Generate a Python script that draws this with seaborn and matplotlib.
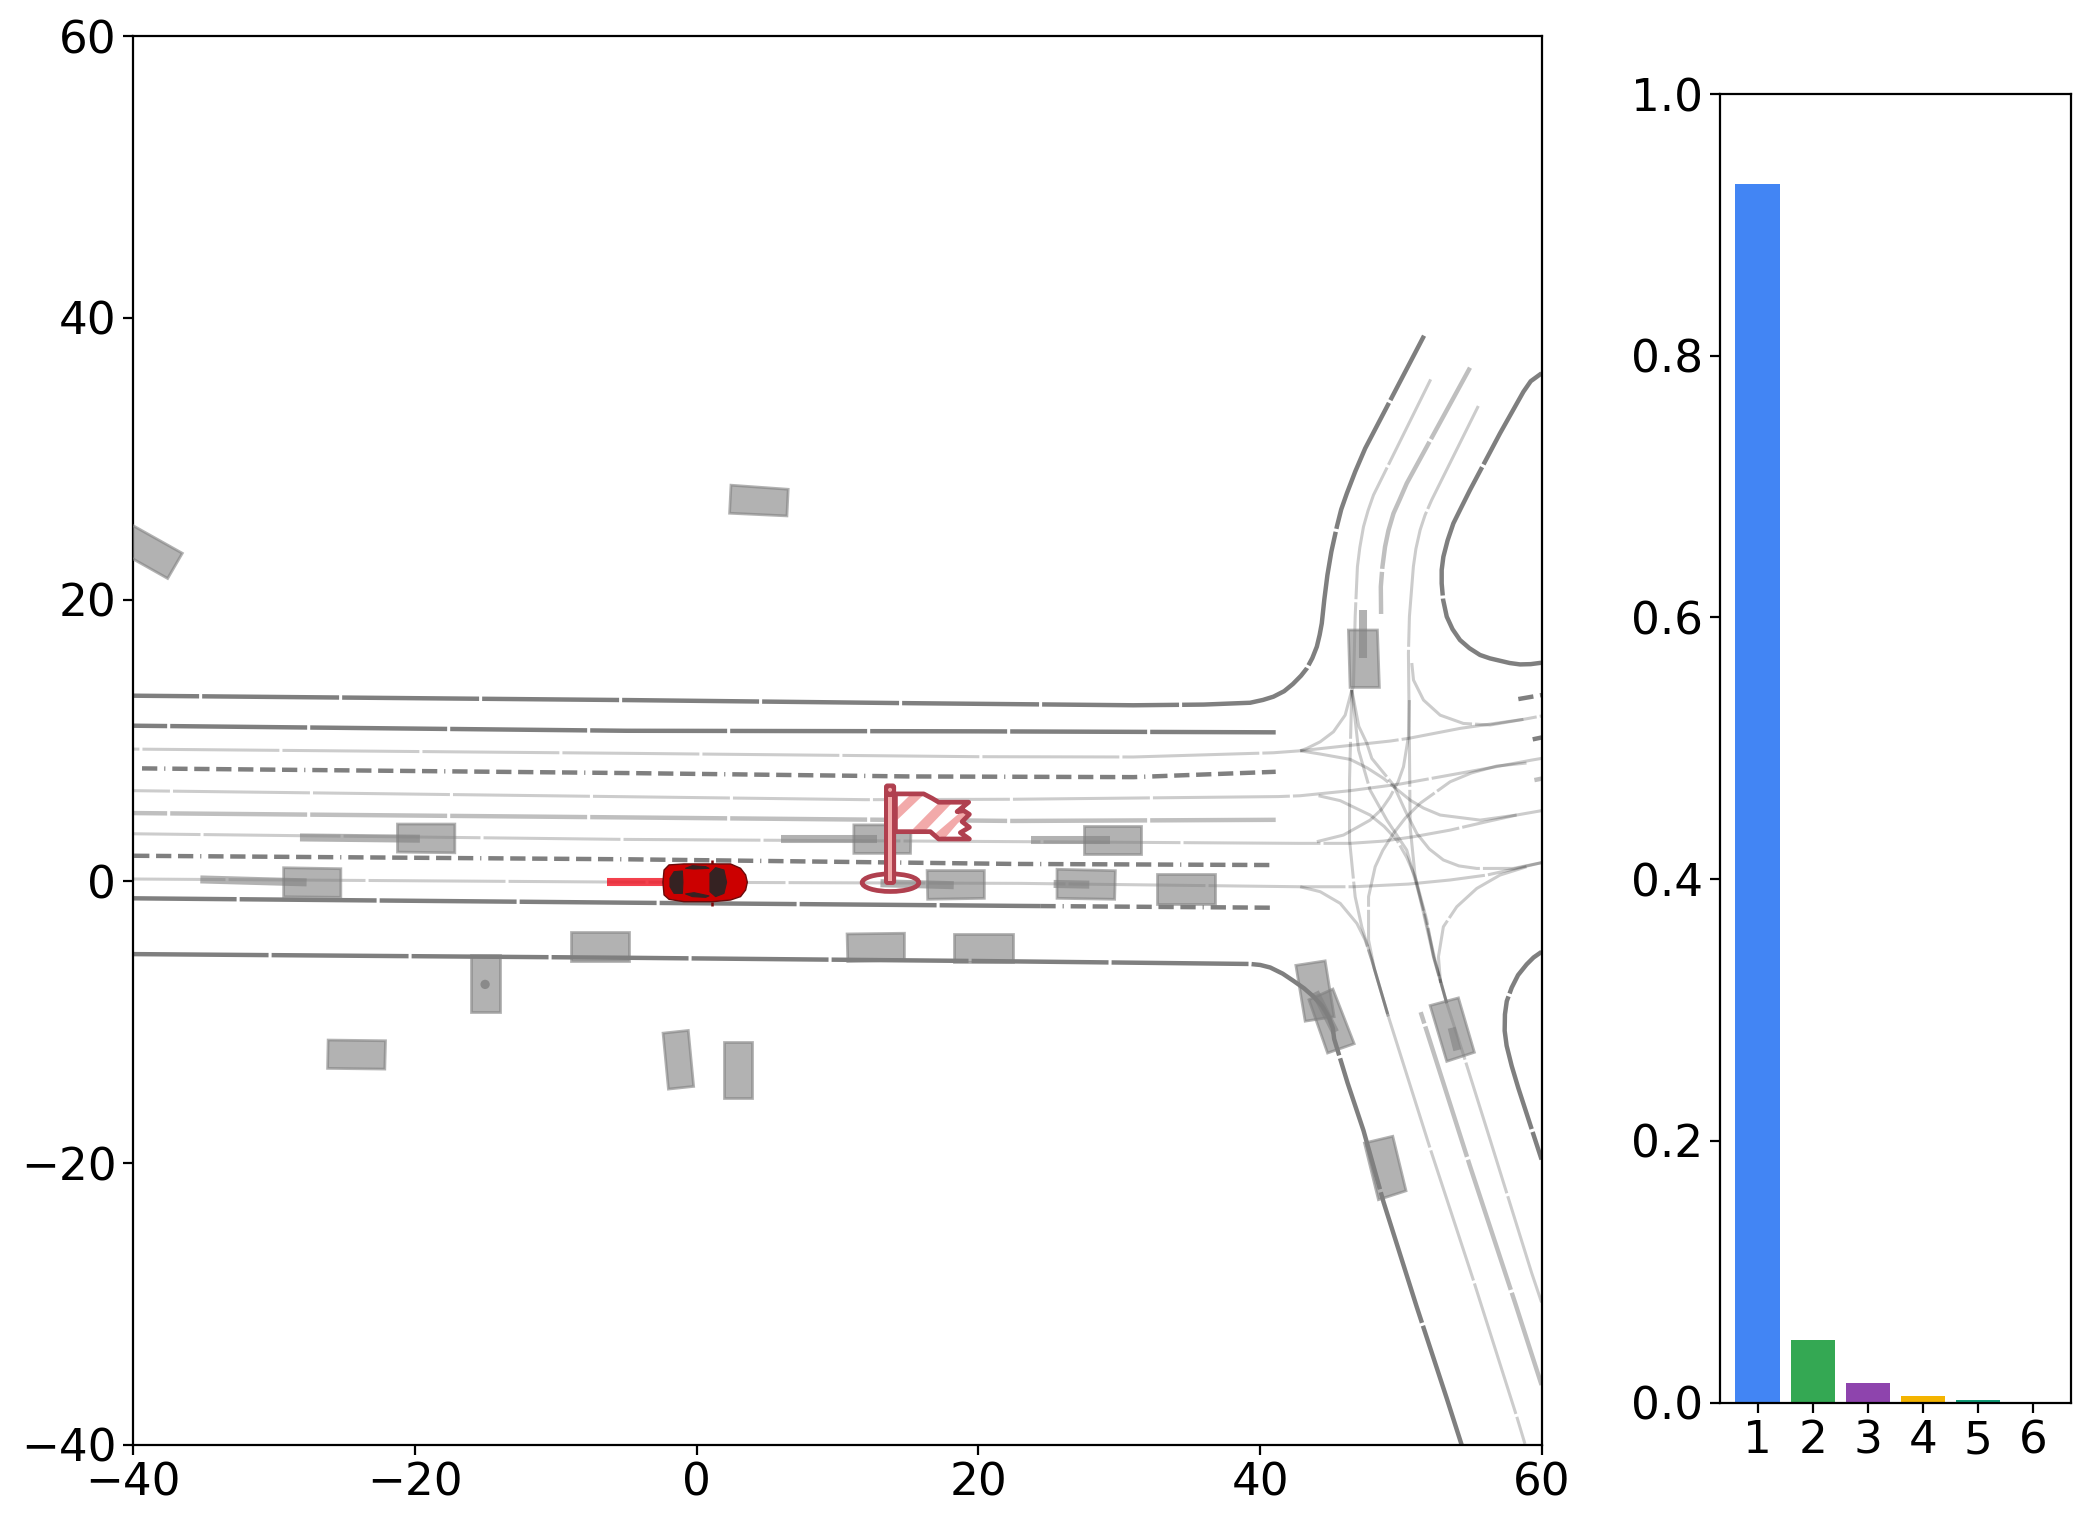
import pandas as pd
import matplotlib
matplotlib.use("Agg")
import matplotlib.pyplot as plt
from matplotlib.patches import Polygon, Ellipse, Circle, FancyBboxPatch
import seaborn as sns

plt.rcParams["font.size"] = 16.3
plt.rcParams["lines.scale_dashes"] = False
plt.rcParams["xtick.major.pad"] = 2.5
plt.rcParams["ytick.major.pad"] = 2.5

# Mode probabilities
modes = ["1", "2", "3", "4", "5", "6"]
probs = [0.931, 0.048, 0.015, 0.005, 0.002, 0.0003]
mode_colors = ["#4285F4", "#34A853", "#8E44AD", "#F4B400", "#0F9D78", "#DB4437"]

xticks = [-40, -20, 0, 20, 40, 60]
yticks = [-40, -20, 0, 20, 40, 60]
prob_ticks = [0.0, 0.2, 0.4, 0.6, 0.8, 1.0]

# Road edges (dark)
curb_top = [(-40, 13.18), (-5, 12.87), (15, 12.65), (31, 12.5), (36, 12.55), (39.29, 12.68), (40.2, 12.88),
            (40.94, 13.11), (41.7, 13.5), (42.32, 14.01), (42.9, 14.6), (43.31, 15.12), (43.7, 15.85), (44.02, 16.66),
            (44.22, 17.5), (44.37, 18.31), (44.55, 20), (44.77, 21.74), (45.05, 23.4), (45.44, 25.17), (45.75, 26.4),
            (46.15, 27.54), (46.75, 29.1), (47.45, 30.73), (51.63, 38.73)]
curb_second = [(-40, 11.05), (-5, 10.69), (20, 10.65), (41.1, 10.58)]
curb_ego = [(-40, -1.2), (-5, -1.51), (23, -1.74), (24.4, -1.75)]
curb_low = [(-40, -5.16), (-5, -5.42), (20, -5.65), (39.29, -5.86), (40.0, -5.93), (40.71, -6.11), (41.6, -6.55),
            (42.36, -7.06), (43.1, -7.58), (43.78, -8.17), (44.4, -8.85), (44.85, -9.6), (45.15, -10.4),
            (45.25, -11.18), (46.2, -14.3), (47.33, -17.68), (48.75, -22.75), (51.11, -30.2), (53.24, -36.69),
            (54.3, -40)]
curb_ne = [(59.97, 36.06), (59.2, 35.5), (58.68, 34.75), (57.02, 31.8), (54.89, 27.78), (54.2, 26.4), (53.71, 25.41),
           (53.3, 24.2), (53.0, 23.04), (52.88, 22.1), (52.88, 21.15), (52.98, 20), (53.24, 18.79), (53.65, 17.9),
           (54.18, 17.13), (54.85, 16.55), (55.6, 16.07), (56.3, 15.83), (57.02, 15.66), (57.7, 15.5), (58.44, 15.4),
           (59.2, 15.42), (59.97, 15.52)]
curb_se = [(59.97, -5.0), (59.4, -5.4), (58.91, -5.89), (58.3, -6.65), (57.85, -7.54), (57.5, -8.5), (57.37, -9.44),
           (57.35, -10.6), (57.49, -11.66), (57.85, -13.1), (58.32, -14.67), (59.97, -19.74)]
stub_a = [(59.34, 10.08), (60, 10.22)]

# Dashed lane dividers
dash_upper = [(-39.36, 8.02), (-5, 7.69), (15, 7.45), (31, 7.4), (41.1, 7.78)]
dash_lower = [(-40, 1.82), (-5, 1.57), (22.5, 1.24), (41.1, 1.16)]
dash_right = [(24.4, -1.75), (41.1, -1.87)]
dash_stub = [(58.32, 12.94), (60, 13.23)]

# Lane centre lines (light)
lane_3 = [(-40, 9.39), (-5, 9.09), (20, 8.85), (31, 8.83), (40.94, 9.13), (42.84, 9.27), (49.22, 9.96), (50.52, 10.15),
          (54.19, 10.86), (58.68, 11.5), (59.97, 11.74)]
lane_5 = [(-40, 6.44), (-5, 6.01), (12, 5.8), (22.5, 5.83), (41.3, 6.02), (42.84, 6.08), (46.39, 6.44), (49.93, 6.91),
          (53.48, 7.55), (57.02, 8.19), (59.27, 8.61), (59.97, 8.73)]
lane_7 = [(-40, 3.38), (-5, 2.98), (23, 2.82), (42.84, 2.7), (46.39, 2.7), (48.75, 2.86), (50.88, 3.17), (53.48, 3.64),
          (56.08, 4.24), (58.2, 4.71), (59.97, 5.02)]
lane_9 = [(-40, 0.17), (-5, -0.05), (23, -0.14), (42.84, -0.38), (46.62, -0.38), (50.52, -0.19), (53.48, 0.1),
          (56.08, 0.45), (58.2, 0.92), (59.97, 1.33)]
lane_6 = [(-40, 4.85), (-5, 4.54), (22.5, 4.29), (41.1, 4.37)]
north_c = [(54.89, 36.46), (50.4, 28.25), (49.9, 27.1), (49.46, 26.12), (49.1, 24.9), (48.86, 23.75), (48.67, 22.3),
           (48.56, 20.91), (48.58, 18.98)]
south_h = [(51.39, -9.28), (54.89, -20.21), (58.08, -29.88), (59.97, -35.74)]
stub_b = [(59.46, 7.19), (60, 7.3)]

north_b = [(52.1, 35.63), (48.04, 27.42), (47.65, 26.3), (47.33, 25.17), (47.07, 23.7), (46.9, 22.33), (46.74, 18.79),
           (46.62, 13.82), (46.5, 13.58), (46.34, 7.19), (46.34, 2.93), (46.74, -1.09), (47.21, -3.22), (47.92, -5.58),
           (49.1, -9.6), (52.06, -18.95), (55.13, -28.3), (58.2, -37.96), (58.79, -39.92)]
north_d = [(55.48, 33.74), (52.17, 27.07), (51.7, 26.0), (51.35, 24.94), (51.05, 23.6), (50.87, 22.33), (50.59, 18.79),
           (50.52, 16.18), (50.59, 9.8), (50.64, 3.88), (51.0, 0.33), (51.82, -2.74), (52.3, -5.35), (53.24, -8.65),
           (54.42, -12.29), (56.31, -18.31), (59.27, -27.8), (59.97, -29.88)]
turn_1 = [(46.5, 13.58), (46.03, 11.8), (45.2, 10.62), (44.26, 9.91), (43.31, 9.44), (42.84, 9.27)]
turn_2 = [(42.84, 9.27), (44.26, 9.04), (46.39, 8.66), (47.6, 8.05), (48.75, 7.31), (50.64, 5.77), (51.6, 5.2),
          (52.77, 4.71), (55.61, 4.35), (58.2, 4.71)]
turn_3 = [(44.14, 6.08), (45.68, 5.73), (47.8, 4.71), (48.8, 3.9), (49.7, 2.93), (50.4, 1.7), (51.0, 0.33), (52.3, -5.35),
          (53.24, -8.65)]
turn_4 = [(44.02, 2.82), (45.91, 3.29), (47.8, 4.35), (48.6, 5.1), (49.22, 6.0), (49.8, 7.1), (50.17, 8.14),
          (50.52, 10.27), (50.59, 12.87)]
turn_5 = [(46.5, 13.58), (46.98, 9.32), (47.8, 6.48), (48.99, 4.35), (50.4, 2.22), (51.0, 0.1), (51.59, -2.03),
          (52.41, -5.58), (53.24, -8.65)]
turn_6 = [(46.5, 13.58), (47.0, 11.0), (47.57, 9.8), (47.92, 8.73), (49.46, 6.84), (50.3, 5.0), (51.11, 3.41),
          (52.0, 2.3), (53.0, 1.52), (54.1, 1.1), (55.37, 0.92), (57.97, 0.92), (59.97, 1.33)]
turn_7 = [(58.9, 8.4), (56.79, 8.19), (55.0, 7.7), (53.48, 7.07), (51.35, 5.54), (50.3, 4.5), (49.46, 3.41), (48.7, 2.2),
          (48.16, 1.04), (47.69, -1.09), (47.69, -4.16), (48.1, -6.2), (49.1, -9.6)]
turn_8 = [(42.84, -0.38), (44.26, -0.73), (45.68, -1.56), (46.86, -2.98), (47.45, -4.16), (47.92, -5.58), (49.1, -9.6)]
turn_9 = [(58.9, 1.04), (57.02, 0.45), (55.37, -0.5), (53.95, -1.8), (53.0, -3.22), (52.65, -5.35), (52.8, -7.2)]
turn_10 = [(50.76, 15.5), (50.88, 14.29), (51.59, 12.87), (52.77, 11.8), (54.42, 11.21), (56.32, 11.1), (58.68, 11.5)]

# Other vehicles
boxes = [
    [(-29.31, 0.97), (-25.25, 0.9), (-25.25, -1.13), (-29.31, -1.09)],
    [(-21.23, 4.07), (-17.16, 4.07), (-17.16, 2.03), (-21.23, 2.08)],
    [(-16.03, -5.23), (-13.95, -5.23), (-13.95, -9.27), (-16.03, -9.27)],
    [(-26.15, -11.26), (-22.08, -11.31), (-22.13, -13.32), (-26.19, -13.27)],
    [(-8.89, -3.57), (-4.78, -3.57), (-4.78, -5.63), (-8.89, -5.63)],
    [(11.16, 4.01), (15.22, 4.01), (15.18, 1.99), (11.16, 1.99)],
    [(16.36, 0.77), (20.42, 0.77), (20.42, -1.2), (16.4, -1.27)],
    [(10.68, -3.73), (14.75, -3.68), (14.75, -5.57), (10.73, -5.69)],
    [(18.3, -3.73), (22.43, -3.73), (22.43, -5.7), (18.3, -5.7)],
    [(2.44, 28.12), (6.5, 27.83), (6.41, 25.94), (2.34, 26.13)],
    [(-40.05, 25.28), (-36.5, 23.29), (-37.54, 21.5), (-41.09, 23.5)],
    [(-2.38, -10.77), (-0.59, -10.58), (-0.21, -14.55), (-2.0, -14.74)],
    [(1.97, -11.43), (3.95, -11.43), (3.95, -15.4), (1.97, -15.4)],
    [(25.58, 0.86), (29.72, 0.76), (29.67, -1.27), (25.58, -1.2)],
    [(27.47, 3.96), (31.54, 3.96), (31.54, 1.92), (27.47, 1.92)],
    [(32.67, 0.5), (36.76, 0.5), (36.76, -1.6), (32.67, -1.6)],
    [(46.26, 17.84), (48.32, 17.84), (48.46, 13.77), (46.38, 13.77)],
    [(42.53, -5.96), (44.61, -5.64), (45.25, -9.6), (43.19, -9.92)],
    [(43.46, -8.4), (45.16, -7.64), (46.67, -11.52), (44.78, -12.18)],
    [(52.06, -8.81), (54.07, -8.27), (55.2, -12.13), (53.24, -12.77)],
    [(47.4, -18.57), (49.41, -18.09), (50.35, -21.96), (48.39, -22.59)],
]
tracks = [
    [(-35.22, 0.14), (-27.68, -0.07)],
    [(-28.15, 3.12), (-19.64, 3.03)],
    [(5.96, 3.04), (12.81, 3.04)],
    [(13.05, -0.13), (18.25, -0.27)],
    [(25.34, -0.18), (27.87, -0.23)],
    [(23.74, 2.94), (29.36, 2.94)],
    [(47.33, 19.26), (47.33, 15.83)],
    [(43.9, -7.86), (45.32, -10.7)],
    [(53.59, -10.39), (53.99, -11.98)],
]
parked_dot = (-15.01, -7.31)

# Ego car
ego_track = [(-6.34, -0.02), (-2.32, -0.02)]
car_body = [(-2.31, 0.81), (-1.96, 1.17), (-0.9, 1.24), (1.11, 1.24), (2.41, 1.24), (3.12, 0.93), (3.48, 0.46),
            (3.6, -0.06), (3.48, -0.61), (3.12, -1.08), (2.41, -1.32), (1.11, -1.44), (-0.9, -1.44), (-1.96, -1.27),
            (-2.31, -0.96), (-2.39, -0.06)]
car_rear_glass = [(-1.89, 0.22), (-1.6, 0.69), (-1.01, 0.74), (-0.97, -0.06), (-1.01, -0.85), (-1.6, -0.85), (-1.89, -0.37)]
car_front_glass = [(0.95, 0.57), (1.35, 0.98), (1.94, 0.81), (2.13, -0.06), (1.94, -0.85), (1.35, -1.08), (0.95, -0.73)]
car_side_top = [(-0.78, 0.93), (-0.3, 1.12), (0.64, 1.05), (0.88, 0.93), (-0.18, 0.88)]
car_side_bot = [(-0.78, -0.89), (-0.18, -0.8), (0.88, -1.03), (0.64, -1.13), (-0.3, -1.08)]
car_mirror_top = [(1.11, 1.24), (1.11, 1.55)]
car_mirror_bot = [(1.11, -1.44), (1.11, -1.72)]

# Goal flag
flag_shape = [(14.11, 6.21), (16.12, 6.21), (16.71, 5.9), (17.18, 5.62), (19.31, 5.62), (18.49, 4.95), (18.96, 5.02),
              (19.36, 4.76), (18.84, 4.24), (19.36, 3.84), (18.72, 3.46), (19.36, 3.01), (17.18, 3.01), (16.59, 3.53),
              (14.11, 3.53)]
flag_stripe_1 = [(14.11, 5.12), (15.18, 6.16), (16.07, 6.11), (14.11, 4.24)]
flag_stripe_2 = [(15.34, 3.7), (17.18, 5.57), (18.13, 5.57), (16.24, 3.6)]
flag_stripe_3 = [(16.78, 3.25), (18.77, 4.95), (19.24, 4.76), (18.53, 4.12), (17.66, 3.11)]
flag_base = (13.76, -0.09)
pole_inner = [(13.59, 0.0), (13.87, 0.0), (13.87, 6.0), (13.59, 6.0)]
pole_dot = (13.73, 6.5)

# line styles
seg = (49.3, 1.1)
dashed = (5.5, 2.5, 0.4, 2.5, 5.5, 2.4, 5.5, 2.4, 5.5, 2.4, 5.5, 2.4, 5.5, 2.4)
solid = (1000, 0)


def draw_line(ax, pts, color="k", alpha=0.5, lw=1.6, offset=0, dashes=seg, z=2):
    df = pd.DataFrame(pts, columns=["x", "y"])
    sns.lineplot(data=df, x="x", y="y", sort=False, estimator=None, ax=ax, color=color, alpha=alpha, lw=lw,
                 linestyle=(offset, dashes), zorder=z, legend=False)


fig = plt.figure(figsize=(10.45, 7.64), dpi=200)
ax = fig.add_axes([133 / 2090, 1 - 1445 / 1528, 1409 / 2090, 1409 / 1528])
ax_bar = fig.add_axes([1719.5 / 2090, 1 - 1402.5 / 1528, 351.5 / 2090, 1308.5 / 1528])

# Dark edges
draw_line(ax, curb_top, offset=25.5)
draw_line(ax, curb_second, offset=37)
draw_line(ax, curb_ego, offset=12)
draw_line(ax, curb_low, offset=0.5)
draw_line(ax, curb_ne, offset=10)
draw_line(ax, curb_se, offset=30)
draw_line(ax, stub_a)

draw_line(ax, dash_upper, dashes=dashed)
draw_line(ax, dash_lower, dashes=dashed, offset=34.2)
draw_line(ax, dash_right, dashes=dashed)
draw_line(ax, dash_stub, dashes=(5.5, 2.4))

# Light lanes
draw_line(ax, lane_3, alpha=0.2, lw=1.1, offset=47)
draw_line(ax, lane_5, alpha=0.2, lw=1.1, offset=36)
draw_line(ax, lane_7, alpha=0.2, lw=1.1, offset=25)
draw_line(ax, lane_9, alpha=0.2, lw=1.1, offset=16)
draw_line(ax, lane_6, alpha=0.25, lw=1.6, offset=37)
draw_line(ax, north_c, alpha=0.25, lw=1.6, offset=20)
draw_line(ax, south_h, alpha=0.25, lw=1.6, offset=45)
draw_line(ax, stub_b, alpha=0.25, lw=1.6)
draw_line(ax, north_b, alpha=0.2, lw=1.1, offset=15)
draw_line(ax, north_d, alpha=0.2, lw=1.1, offset=8)
for lane in [turn_1, turn_2, turn_3, turn_4, turn_5, turn_6, turn_7, turn_8, turn_9, turn_10]:
    draw_line(ax, lane, alpha=0.2, lw=1.1, offset=15)

# Vehicles and their tracks
for box in boxes:
    ax.add_patch(Polygon(box, closed=True, facecolor="gray", edgecolor="gray", alpha=0.6, lw=1.0, zorder=3))
for track in tracks:
    draw_line(ax, track, color="gray", alpha=0.6, lw=2.9, dashes=solid, z=4)
ax.add_patch(Circle(parked_dot, 0.33, color="gray", alpha=0.8, lw=0, zorder=4))

# Ego
draw_line(ax, ego_track, color="#f01020", alpha=0.8, lw=2.9, dashes=solid, z=5)
draw_line(ax, car_mirror_top, color="#7a0505", alpha=1, lw=0.9, dashes=solid, z=6)
draw_line(ax, car_mirror_bot, color="#7a0505", alpha=1, lw=0.9, dashes=solid, z=6)
ax.add_patch(Polygon(car_body, closed=True, facecolor="#cc0000", edgecolor="#6a0a0a", lw=0.5, joinstyle="round", zorder=6))
for glass in [car_rear_glass, car_front_glass, car_side_top, car_side_bot]:
    ax.add_patch(Polygon(glass, closed=True, facecolor="#352222", edgecolor="#352222", lw=0.4, joinstyle="round", zorder=7))

# Goal flag
flag_red = "#b0404f"
flag_pink = "#f2aaaa"
ax.add_patch(Polygon(flag_shape, closed=True, facecolor="white", edgecolor="none", zorder=7))
for stripe in [flag_stripe_1, flag_stripe_2, flag_stripe_3]:
    ax.add_patch(Polygon(stripe, closed=True, facecolor=flag_pink, edgecolor="none", zorder=7))
ax.add_patch(Polygon(flag_shape, closed=True, fill=False, edgecolor=flag_red, lw=1.7, joinstyle="round", zorder=8))
ax.add_patch(Ellipse(flag_base, 4.02, 1.25, fill=False, edgecolor=flag_red, lw=1.7, zorder=8))
ax.add_patch(FancyBboxPatch((13.55, 0.0), 0.36, 6.7, boxstyle="round,pad=0.2", facecolor=flag_red,
                            edgecolor=flag_red, lw=0.5, zorder=9))
ax.add_patch(Polygon(pole_inner, closed=True, facecolor=flag_pink, edgecolor="none", zorder=10))
ax.add_patch(Circle(pole_dot, 0.14, facecolor=flag_pink, edgecolor="none", zorder=10))

ax.set_xlim(-40, 60)
ax.set_ylim(-40, 60)
ax.set_xticks(xticks)
ax.set_yticks(yticks)
ax.set_xlabel("")
ax.set_ylabel("")

# Probability bars
sns.barplot(x=modes, y=probs, hue=modes, palette=mode_colors, saturation=1, width=0.8, legend=False, ax=ax_bar)
ax_bar.set_xlim(-0.69, 5.69)
ax_bar.set_ylim(0, 1)
ax_bar.set_yticks(prob_ticks)

plt.savefig("out.png", dpi=200)
